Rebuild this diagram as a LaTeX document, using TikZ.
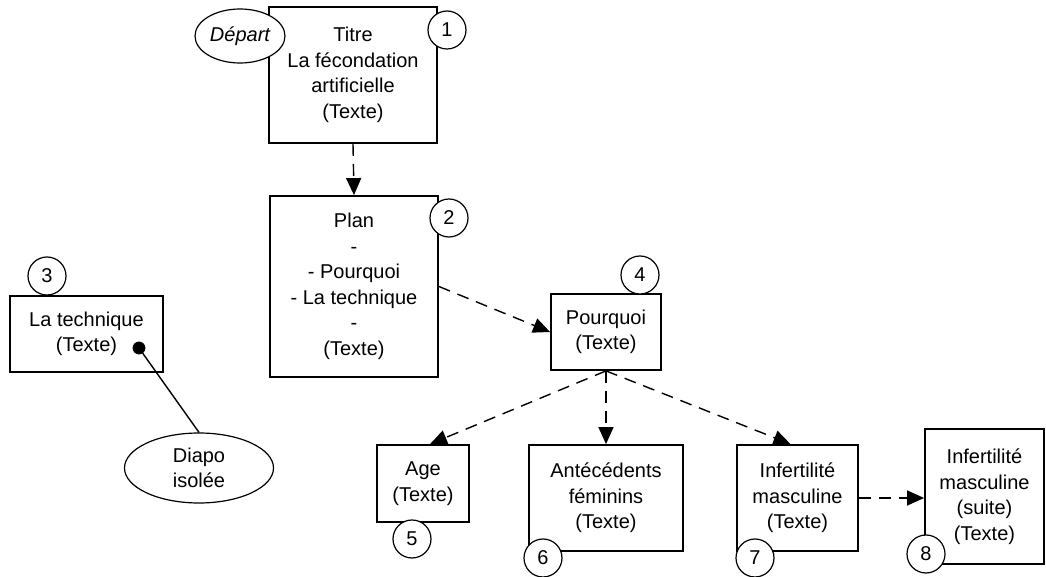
\documentclass[tikz,border=0pt]{standalone}
\usepackage{fontspec}
\setmainfont{Liberation Sans}
\usetikzlibrary{arrows.meta,positioning,shapes.geometric}

\begin{document}
\begin{tikzpicture}[x=0.5pt, y=-0.5pt,
    every node/.style={font=\fontsize{10}{12.75}\selectfont, align=center},
    box/.style={draw, line width=0.9pt, fill=white, inner sep=0pt},
    num/.style={draw, circle, fill=white, minimum size=19pt, inner sep=0pt, line width=0.6pt},
    oval/.style={draw, ellipse, fill=white, inner sep=0pt, line width=0.6pt},
    link/.style={-{Triangle[length=8.5pt,width=7.5pt]}, dash pattern=on 6pt off 4pt, line width=0.7pt}]
    \useasboundingbox (0,0) rectangle (1046,577);
    % slides
    \node[box, minimum width=84pt, minimum height=68pt] (titre) at (353,75) {Titre\\La fécondation\\artificielle\\(Texte)};
    \node[box, minimum width=84pt, minimum height=90.5pt] (plan) at (354,286.5) {Plan\\-\\- Pourquoi\\- La technique\\-\\(Texte)};
    \node[box, minimum width=76.5pt, minimum height=38pt] (tech) at (86.5,334) {La technique\\(Texte)};
    \node[box, minimum width=55pt, minimum height=38pt] (pq) at (606,332) {Pourquoi\\(Texte)};
    \node[box, minimum width=46pt, minimum height=38.5pt] (age) at (423,483.5) {Age\\(Texte)};
    \node[box, minimum width=77pt, minimum height=53pt] (ant) at (606,498) {Antécédents\\féminins\\(Texte)};
    \node[box, minimum width=60.5pt, minimum height=53pt] (mas) at (797.5,498) {Infertilité\\masculine\\(Texte)};
    \node[box, minimum width=59.5pt, minimum height=67.5pt] (suite) at (984.5,496.5) {Infertilité\\masculine\\(suite)\\(Texte)};
    % ovals
    \node[oval, minimum width=45pt, minimum height=27pt] (depart) at (240,36) {\itshape Départ};
    \node[oval, minimum width=74.5pt, minimum height=35pt] (diapo) at (199,468) {Diapo\\isolée};
    \node[draw, circle, fill=black, minimum size=6pt, inner sep=0pt] (dot) at (139,348) {};
    % numbers
    \node[num] (n1) at (447,30) {1};
    \node[num] (n2) at (449,218) {2};
    \node[num] (n3) at (47,276) {3};
    \node[num] (n4) at (640,275) {4};
    \node[num] (n5) at (412,539) {5};
    \node[num] (n6) at (543,558) {6};
    \node[num] (n7) at (755,558) {7};
    \node[num] (n8) at (926,554) {8};
    % links
    \draw[link] (titre.south) -- (plan.north);
    \draw[link] (plan.east) -- (pq.west);
    \draw[link] (pq.south) -- ([xshift=3.5pt]age.north);
    \draw[link] (pq.south) -- (ant.north);
    \draw[link] (pq.south) -- ([xshift=-3.5pt]mas.north);
    \draw[link] (mas.east) -- (mas.east -| suite.west);
    \draw[line width=0.7pt] (dot) -- (diapo.north);
\end{tikzpicture}
\end{document}
